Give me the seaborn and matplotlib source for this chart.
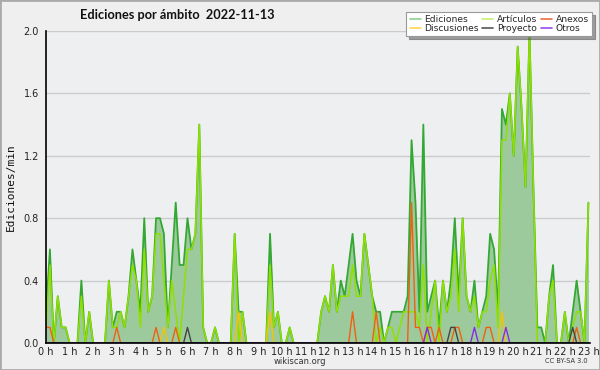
import matplotlib
matplotlib.use("Agg")
import matplotlib.pyplot as plt
import seaborn as sns
import numpy as np
from matplotlib import font_manager
from matplotlib.lines import Line2D
from matplotlib.patches import Rectangle
from matplotlib.ticker import MultipleLocator, FixedLocator, FixedFormatter

title = "Ediciones por ámbito  2022-11-13"
hour_labels = [f"{h} h" for h in range(24)]

# values per 10-minute slot (ediciones/min), slot 0 = 0:00 ... slot 138 = 23:00
ediciones = [
    0.2, 0.6, 0.0, 0.3, 0.1, 0.1, 0.0, 0.0, 0.0, 0.4,
    0.0, 0.2, 0.0, 0.0, 0.0, 0.0, 0.4, 0.1, 0.2, 0.2,
    0.1, 0.3, 0.6, 0.4, 0.2, 0.8, 0.2, 0.3, 0.8, 0.8,
    0.7, 0.1, 0.5, 0.9, 0.5, 0.5, 0.8, 0.6, 0.7, 1.4,
    0.1, 0.0, 0.0, 0.1, 0.0, 0.0, 0.0, 0.0, 0.7, 0.2,
    0.2, 0.0, 0.0, 0.0, 0.0, 0.0, 0.0, 0.7, 0.1, 0.2,
    0.0, 0.0, 0.1, 0.0, 0.0, 0.0, 0.0, 0.0, 0.0, 0.0,
    0.2, 0.3, 0.2, 0.5, 0.2, 0.4, 0.3, 0.5, 0.7, 0.4,
    0.3, 0.7, 0.5, 0.3, 0.2, 0.2, 0.0, 0.1, 0.2, 0.2,
    0.2, 0.2, 0.3, 1.3, 0.9, 0.2, 1.4, 0.2, 0.3, 0.4,
    0.1, 0.4, 0.2, 0.4, 0.8, 0.3, 0.8, 0.3, 0.2, 0.4,
    0.1, 0.2, 0.3, 0.7, 0.6, 0.2, 1.5, 1.4, 1.6, 1.2,
    1.9, 1.5, 1.0, 2.0, 1.0, 0.1, 0.1, 0.0, 0.3, 0.5,
    0.0, 0.0, 0.2, 0.0, 0.2, 0.4, 0.2, 0.0, 0.9,
]
articulos = [
    0.1, 0.5, 0.0, 0.3, 0.1, 0.1, 0.0, 0.0, 0.0, 0.3,
    0.0, 0.2, 0.0, 0.0, 0.0, 0.0, 0.4, 0.1, 0.1, 0.2,
    0.1, 0.3, 0.5, 0.4, 0.1, 0.6, 0.2, 0.3, 0.7, 0.7,
    0.4, 0.1, 0.4, 0.2, 0.0, 0.3, 0.6, 0.6, 0.7, 1.4,
    0.1, 0.0, 0.0, 0.1, 0.0, 0.0, 0.0, 0.0, 0.7, 0.0,
    0.2, 0.0, 0.0, 0.0, 0.0, 0.0, 0.0, 0.5, 0.1, 0.2,
    0.0, 0.0, 0.1, 0.0, 0.0, 0.0, 0.0, 0.0, 0.0, 0.0,
    0.2, 0.3, 0.2, 0.5, 0.2, 0.3, 0.3, 0.3, 0.5, 0.3,
    0.3, 0.7, 0.5, 0.3, 0.0, 0.1, 0.0, 0.1, 0.1, 0.0,
    0.1, 0.2, 0.2, 0.2, 0.2, 0.1, 0.5, 0.0, 0.2, 0.4,
    0.0, 0.4, 0.2, 0.3, 0.6, 0.2, 0.8, 0.3, 0.2, 0.3,
    0.1, 0.2, 0.2, 0.4, 0.5, 0.1, 1.3, 1.3, 1.6, 1.2,
    1.9, 1.5, 1.0, 2.0, 1.0, 0.0, 0.0, 0.0, 0.3, 0.4,
    0.0, 0.0, 0.2, 0.0, 0.1, 0.2, 0.2, 0.0, 0.9,
]
anexos = [
    0.1, 0.1, 0.0, 0.0, 0.0, 0.0, 0.0, 0.0, 0.0, 0.0,
    0.0, 0.0, 0.0, 0.0, 0.0, 0.0, 0.0, 0.0, 0.1, 0.0,
    0.0, 0.0, 0.0, 0.0, 0.0, 0.0, 0.0, 0.0, 0.1, 0.0,
    0.0, 0.0, 0.0, 0.1, 0.0, 0.0, 0.0, 0.0, 0.0, 0.0,
    0.0, 0.0, 0.0, 0.0, 0.0, 0.0, 0.0, 0.0, 0.0, 0.0,
    0.0, 0.0, 0.0, 0.0, 0.0, 0.0, 0.0, 0.0, 0.0, 0.0,
    0.0, 0.0, 0.0, 0.0, 0.0, 0.0, 0.0, 0.0, 0.0, 0.0,
    0.0, 0.0, 0.0, 0.0, 0.0, 0.0, 0.0, 0.0, 0.2, 0.0,
    0.0, 0.0, 0.0, 0.0, 0.2, 0.0, 0.0, 0.0, 0.0, 0.0,
    0.0, 0.0, 0.0, 0.9, 0.1, 0.1, 0.0, 0.1, 0.1, 0.0,
    0.1, 0.0, 0.0, 0.0, 0.1, 0.1, 0.0, 0.0, 0.0, 0.0,
    0.0, 0.0, 0.1, 0.1, 0.0, 0.0, 0.0, 0.0, 0.0, 0.0,
    0.0, 0.0, 0.0, 0.0, 0.0, 0.0, 0.0, 0.0, 0.0, 0.0,
    0.0, 0.0, 0.0, 0.0, 0.0, 0.1, 0.0, 0.0, 0.0,
]
discusiones = [
    0.0, 0.0, 0.0, 0.0, 0.0, 0.0, 0.0, 0.0, 0.0, 0.0,
    0.0, 0.0, 0.0, 0.0, 0.0, 0.0, 0.0, 0.0, 0.0, 0.0,
    0.0, 0.0, 0.0, 0.0, 0.0, 0.0, 0.0, 0.0, 0.0, 0.0,
    0.1, 0.0, 0.0, 0.0, 0.0, 0.0, 0.0, 0.0, 0.0, 0.0,
    0.0, 0.0, 0.0, 0.0, 0.0, 0.0, 0.0, 0.0, 0.0, 0.2,
    0.0, 0.0, 0.0, 0.0, 0.0, 0.0, 0.0, 0.2, 0.0, 0.0,
    0.0, 0.0, 0.0, 0.0, 0.0, 0.0, 0.0, 0.0, 0.0, 0.0,
    0.0, 0.0, 0.0, 0.0, 0.0, 0.0, 0.0, 0.0, 0.0, 0.0,
    0.0, 0.0, 0.0, 0.0, 0.0, 0.0, 0.0, 0.0, 0.0, 0.0,
    0.0, 0.0, 0.0, 0.0, 0.0, 0.0, 0.0, 0.0, 0.0, 0.0,
    0.0, 0.0, 0.0, 0.0, 0.0, 0.0, 0.0, 0.0, 0.0, 0.0,
    0.0, 0.0, 0.0, 0.0, 0.0, 0.0, 0.2, 0.0, 0.0, 0.0,
    0.0, 0.0, 0.0, 0.0, 0.0, 0.0, 0.0, 0.0, 0.0, 0.0,
    0.0, 0.0, 0.0, 0.0, 0.0, 0.0, 0.0, 0.0, 0.0,
]
proyecto = [
    0.0, 0.0, 0.0, 0.0, 0.0, 0.0, 0.0, 0.0, 0.0, 0.0,
    0.0, 0.0, 0.0, 0.0, 0.0, 0.0, 0.0, 0.0, 0.0, 0.0,
    0.0, 0.0, 0.0, 0.0, 0.0, 0.0, 0.0, 0.0, 0.0, 0.0,
    0.0, 0.0, 0.0, 0.0, 0.0, 0.0, 0.1, 0.0, 0.0, 0.0,
    0.0, 0.0, 0.0, 0.0, 0.0, 0.0, 0.0, 0.0, 0.0, 0.0,
    0.0, 0.0, 0.0, 0.0, 0.0, 0.0, 0.0, 0.0, 0.0, 0.0,
    0.0, 0.0, 0.0, 0.0, 0.0, 0.0, 0.0, 0.0, 0.0, 0.0,
    0.0, 0.0, 0.0, 0.0, 0.0, 0.0, 0.0, 0.0, 0.0, 0.0,
    0.0, 0.0, 0.0, 0.0, 0.0, 0.0, 0.0, 0.0, 0.0, 0.0,
    0.0, 0.0, 0.0, 0.0, 0.0, 0.0, 0.0, 0.0, 0.0, 0.0,
    0.0, 0.0, 0.0, 0.1, 0.1, 0.0, 0.0, 0.0, 0.0, 0.0,
    0.0, 0.0, 0.0, 0.0, 0.0, 0.0, 0.0, 0.0, 0.0, 0.0,
    0.0, 0.0, 0.0, 0.0, 0.0, 0.0, 0.0, 0.0, 0.0, 0.0,
    0.0, 0.0, 0.0, 0.0, 0.1, 0.0, 0.0, 0.0, 0.0,
]
otros = [
    0.0, 0.0, 0.0, 0.0, 0.0, 0.0, 0.0, 0.0, 0.0, 0.0,
    0.0, 0.0, 0.0, 0.0, 0.0, 0.0, 0.0, 0.0, 0.0, 0.0,
    0.0, 0.0, 0.0, 0.0, 0.0, 0.0, 0.0, 0.0, 0.0, 0.0,
    0.0, 0.0, 0.0, 0.0, 0.0, 0.0, 0.0, 0.0, 0.0, 0.0,
    0.0, 0.0, 0.0, 0.0, 0.0, 0.0, 0.0, 0.0, 0.0, 0.0,
    0.0, 0.0, 0.0, 0.0, 0.0, 0.0, 0.0, 0.0, 0.0, 0.0,
    0.0, 0.0, 0.0, 0.0, 0.0, 0.0, 0.0, 0.0, 0.0, 0.0,
    0.0, 0.0, 0.0, 0.0, 0.0, 0.0, 0.0, 0.0, 0.0, 0.0,
    0.0, 0.0, 0.0, 0.0, 0.0, 0.0, 0.0, 0.0, 0.0, 0.0,
    0.0, 0.0, 0.0, 0.0, 0.0, 0.0, 0.0, 0.1, 0.0, 0.0,
    0.0, 0.0, 0.0, 0.0, 0.0, 0.0, 0.0, 0.0, 0.0, 0.1,
    0.0, 0.0, 0.0, 0.0, 0.0, 0.0, 0.0, 0.1, 0.0, 0.0,
    0.0, 0.0, 0.0, 0.0, 0.0, 0.0, 0.0, 0.0, 0.0, 0.0,
    0.0, 0.0, 0.0, 0.0, 0.0, 0.0, 0.0, 0.0, 0.0,
]

hours = np.arange(len(ediciones)) / 6.0

sns.set_style("white")
plt.rcParams["font.family"] = ["DejaVu Sans"]

available = {f.name for f in font_manager.fontManager.ttflist}
if "Lato" in available:
    title_font = dict(family="Lato", fontsize=9.2)
else:
    title_font = dict(family="DejaVu Sans", fontsize=7.0)

fig = plt.figure(figsize=(6.0, 3.7), dpi=100, facecolor="#efefef")
ax = fig.add_axes([46 / 600, 27 / 370, 544 / 600, 312 / 370])
ax.set_facecolor("#eeeff1")

# filled area for total edits
ax.fill_between(hours, 0, ediciones, color="#9dca9d", lw=0, zorder=2)

series = [
    (ediciones, "#33a833", 1.3, 3),
    (articulos, "#8fe000", 1.1, 4),
    (discusiones, "#f5c400", 1.0, 5),
    (anexos, "#f06010", 1.0, 6),
    (proyecto, "#444444", 1.0, 7),
    (otros, "#8a2be2", 1.0, 8),
]
for vals, col, lw, z in series:
    sns.lineplot(x=hours, y=vals, ax=ax, color=col, lw=lw, zorder=z,
                 legend=False, estimator=None)

ax.set_xlim(0, 138.4 / 6)
ax.set_ylim(0, 2.0)

ax.yaxis.set_major_locator(MultipleLocator(0.4))
ax.yaxis.set_minor_locator(MultipleLocator(0.1))
ax.yaxis.set_major_formatter(matplotlib.ticker.FormatStrFormatter("%.1f"))
ax.xaxis.set_major_locator(FixedLocator(list(range(24))))
ax.xaxis.set_major_formatter(FixedFormatter(hour_labels))
ax.xaxis.set_minor_locator(MultipleLocator(1 / 6))

ax.grid(axis="y", which="major", color="#cccccc", lw=1, zorder=1)
ax.set_axisbelow(True)

for s in ["top", "right"]:
    ax.spines[s].set_visible(False)
for s in ["left", "bottom"]:
    ax.spines[s].set_color("black")
    ax.spines[s].set_linewidth(1.2)
    ax.spines[s].set_zorder(10)

ax.tick_params(axis="y", which="major", direction="out", length=4,
               width=1, color="black", labelsize=7, labelcolor="#222222", pad=1)
ax.tick_params(axis="x", which="major", direction="out", length=3,
               width=1, color="black", labelsize=7, labelcolor="#222222", pad=0)
ax.tick_params(axis="both", which="minor", direction="out", length=3,
               width=1, color="black")
ax.set_xlabel("")
ax.set_ylabel("")

fig.text(80 / 600, 1 - 15 / 370, title, fontweight="bold",
         ha="left", va="center", color="#111111", **title_font)
fig.text(11 / 600, 1 - 187 / 370, "Ediciones/min", rotation=90, fontsize=8,
         family="DejaVu Sans Mono", ha="center", va="center", color="#111111")
fig.text(300 / 600, 1 - 362 / 370, "wikiscan.org", fontsize=6,
         ha="center", va="center", color="#333333")
fig.text(588 / 600, 1 - 361 / 370, "CC BY-SA 3.0", fontsize=4.8,
         ha="right", va="center", color="#333333")

handles = [
    Line2D([], [], color="#8fd18f", lw=1.2),
    Line2D([], [], color="#ffd84d", lw=1.2),
    Line2D([], [], color="#c8f070", lw=1.2),
    Line2D([], [], color="#555555", lw=1.2),
    Line2D([], [], color="#f07040", lw=1.2),
    Line2D([], [], color="#9a4cf0", lw=1.2),
]
labels = ["Ediciones", "Discusiones", "Artículos", "Proyecto", "Anexos", "Otros"]
leg = fig.legend(handles, labels, ncol=3, loc="upper right",
                 bbox_to_anchor=(592 / 600, 1 - 12 / 370), fontsize=6.6,
                 frameon=True, fancybox=False, shadow=True, handlelength=1.2,
                 handletextpad=0.4, columnspacing=0.4, labelspacing=0.0,
                 borderpad=0.35, borderaxespad=0)
leg.get_frame().set_edgecolor("#999999")
leg.get_frame().set_facecolor("white")
leg.get_frame().set_linewidth(0.8)

fig.patches.append(Rectangle((0, 0), 1, 1, transform=fig.transFigure,
                             fill=False, edgecolor="#aaaaaa", lw=2))

fig.savefig("out.png", dpi=100, facecolor=fig.get_facecolor())
